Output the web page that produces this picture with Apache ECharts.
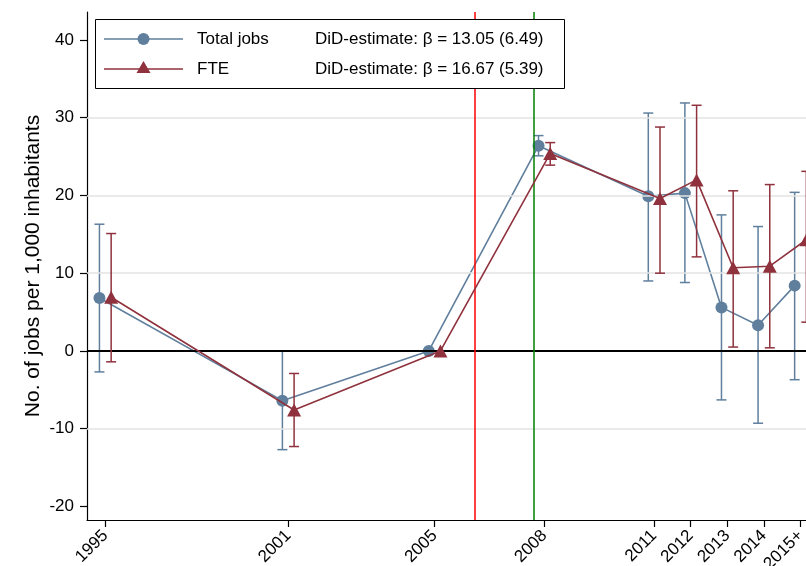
<!DOCTYPE html>
<html>
<head>
<meta charset="utf-8">
<script src="https://cdn.jsdelivr.net/npm/echarts@6/dist/echarts.min.js"></script>
<style>html,body{margin:0;padding:0;background:#fff}#c{width:806px;height:566px}</style>
</head>
<body>
<div id="c"></div>
<script>
// ---- data ----
const xLabels = ['1995','2001','2005','2008','2011','2012','2013','2014','2015+'];
const xPos = [1996, 2001, 2005, 2008, 2011, 2012, 2013, 2014, 2015];
const yTicks = [-20, -10, 0, 10, 20, 30, 40];
const gridValues = [-10, 10, 20, 30];
const totalJobs = [6.8, -6.4, 0, 26.4, 19.9, 20.3, 5.6, 3.3, 8.4];
const totalLow  = [-2.7, -12.7, null, 25.1, 9.0, 8.8, -6.3, -9.3, -3.7];
const totalHigh = [16.3, 0.0, null, 27.7, 30.6, 31.9, 17.5, 16.0, 20.4];
const fte      = [6.9, -7.6, 0, 25.4, 19.6, 22.0, 10.7, 10.9, 14.3];
const fteLow   = [-1.4, -12.3, null, 23.9, 10.0, 12.1, 0.5, 0.4, 3.7];
const fteHigh  = [15.1, -2.9, null, 26.8, 28.8, 31.6, 20.6, 21.4, 23.1];
const reformLine = 2006.1;
const effectLine = 2007.7;
const didTotal = 'DiD-estimate: β = 13.05 (6.49)';
const didFte = 'DiD-estimate: β = 16.67 (5.39)';

const BLUE = '#5f7f9d';
const RED = '#8f323d';
const FONT = '"Liberation Sans", Arial, Helvetica, sans-serif';
const dodge = 0.16;

function pts(vals, off) { return vals.map((v, i) => [xPos[i] + off, v]); }
function ci(lo, hi, off) {
  const out = [];
  lo.forEach((l, i) => { if (l !== null) out.push([xPos[i] + off, l, hi[i]]); });
  return out;
}
function errRender(color) {
  return function (params, api) {
    const x = api.value(0), lo = api.value(1), hi = api.value(2);
    const a = api.coord([x, lo]), b = api.coord([x, hi]);
    const w = 5;
    const st = { stroke: color, lineWidth: 1.5 };
    return { type: 'group', children: [
      { type: 'line', shape: { x1: a[0], y1: a[1], x2: b[0], y2: b[1] }, style: st },
      { type: 'line', shape: { x1: a[0] - w, y1: a[1], x2: a[0] + w, y2: a[1] }, style: st },
      { type: 'line', shape: { x1: b[0] - w, y1: b[1], x2: b[0] + w, y2: b[1] }, style: st }
    ]};
  };
}

const chart = echarts.init(document.getElementById('c'), null, { renderer: 'canvas' });
chart.setOption({
  animation: false,
  textStyle: { fontFamily: FONT },
  grid: { left: 87, top: 12, bottom: 46, right: 0, containLabel: false, outerBoundsMode: 'none' },
  xAxis: {
    type: 'value', min: 1995.5, max: 2015.15,
    axisLine: { show: true, onZero: false, lineStyle: { color: '#000', width: 1.2 } },
    axisTick: { show: true, customValues: xPos, length: 7, lineStyle: { color: '#000', width: 1.2 } },
    axisLabel: { customValues: xPos, rotate: 45, margin: 13, color: '#000', fontSize: 17, fontFamily: FONT,
      formatter: v => xLabels[xPos.indexOf(v)] },
    splitLine: { show: false }
  },
  yAxis: {
    type: 'value', min: -21.75, max: 43.6,
    name: 'No. of jobs per 1,000 inhabitants', nameLocation: 'middle', nameGap: 43, nameMoveOverlap: false,
    nameTextStyle: { color: '#000', fontSize: 21, fontFamily: FONT },
    axisLine: { show: true, lineStyle: { color: '#000', width: 1.2 } },
    axisTick: { show: true, customValues: yTicks, length: 7, lineStyle: { color: '#000', width: 1.2 } },
    axisLabel: { customValues: yTicks, margin: 13, color: '#000', fontSize: 17, fontFamily: FONT },
    splitLine: { show: false }
  },
  series: [
    { type: 'line', data: [], z: 1, silent: true,
      markLine: { symbol: 'none', silent: true, label: { show: false },
        data: gridValues.map(v => ({ yAxis: v, lineStyle: { color: '#e3e3e3', width: 1.5, type: 'solid' } }))
          .concat([
            { yAxis: 0, lineStyle: { color: '#000', width: 1.8, type: 'solid' } },
            { xAxis: reformLine, lineStyle: { color: '#ff0000', width: 1.5, type: 'solid' } },
            { xAxis: effectLine, lineStyle: { color: '#008000', width: 1.5, type: 'solid' } }
          ]) } },
    { type: 'custom', renderItem: errRender(BLUE), data: ci(totalLow, totalHigh, -dodge), z: 3, clip: false, encode: { x: 0, y: [1, 2] } },
    { type: 'line', name: 'Total jobs', data: pts(totalJobs, -dodge), symbol: 'circle', symbolSize: 12, clip: false,
      lineStyle: { color: BLUE, width: 1.6 }, itemStyle: { color: BLUE }, z: 4 },
    { type: 'custom', renderItem: errRender(RED), data: ci(fteLow, fteHigh, dodge), z: 5, clip: false, encode: { x: 0, y: [1, 2] } },
    { type: 'line', name: 'FTE', data: pts(fte, dodge), symbol: 'triangle', symbolSize: [14, 13], clip: false,
      lineStyle: { color: RED, width: 1.6 }, itemStyle: { color: RED }, z: 6 }
  ],
  graphic: [
    { type: 'rect', z: 100, shape: { x: 95.5, y: 19.5, width: 469, height: 69 },
      style: { fill: '#fff', stroke: '#000', lineWidth: 1 } },
    { type: 'line', z: 101, shape: { x1: 104, y1: 39, x2: 183, y2: 39 }, style: { stroke: BLUE, lineWidth: 1.6 } },
    { type: 'circle', z: 102, shape: { cx: 143.5, cy: 39, r: 6 }, style: { fill: BLUE } },
    { type: 'line', z: 101, shape: { x1: 104, y1: 69, x2: 183, y2: 69 }, style: { stroke: RED, lineWidth: 1.6 } },
    { type: 'polygon', z: 102, shape: { points: [[143.5, 61], [136.5, 73], [150.5, 73]] }, style: { fill: RED } },
    { type: 'text', z: 102, x: 197, y: 39, style: { text: 'Total jobs', fill: '#000', font: '17px ' + FONT, verticalAlign: 'middle' } },
    { type: 'text', z: 102, x: 197, y: 69, style: { text: 'FTE', fill: '#000', font: '17px ' + FONT, verticalAlign: 'middle' } },
    { type: 'text', z: 102, x: 315, y: 39, style: { text: didTotal, fill: '#000', font: '17px ' + FONT, verticalAlign: 'middle' } },
    { type: 'text', z: 102, x: 315, y: 69, style: { text: didFte, fill: '#000', font: '17px ' + FONT, verticalAlign: 'middle' } }
  ]
});
</script>
</body>
</html>
